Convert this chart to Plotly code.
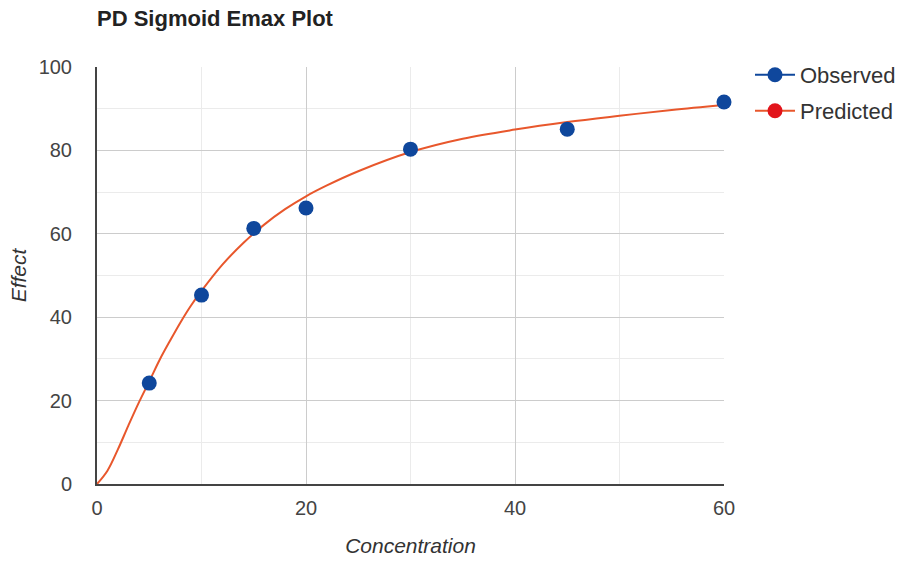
import plotly.graph_objects as go

# Observed data
obs_conc = [5, 10, 15, 20, 30, 45, 60]
obs_effect = [24.2, 45.3, 61.3, 66.2, 80.3, 85.1, 91.6]

# Predicted curve
pred_conc = [0, 1, 2, 3, 4, 5, 6, 7, 8, 9, 10, 12, 14, 16, 18, 20, 22, 25, 30, 35, 40, 45, 50, 55, 60]
pred_effect = [0, 3.2, 8.3, 14.0, 19.5, 24.6, 29.8, 34.4, 38.8, 42.8, 46.3, 52.6, 57.8, 62.2, 65.9, 69.0, 71.6, 75.0, 79.6, 82.8, 85.0, 86.8, 88.3, 89.7, 90.9]

x_ticks = [0, 20, 40, 60]
y_ticks = [0, 20, 40, 60, 80, 100]

BLUE = "#0f479c"
ORANGE = "#e8572c"
RED = "#e2141b"
FONT = "Liberation Sans, Arial, sans-serif"

fig = go.Figure()

fig.add_trace(go.Scatter(x=pred_conc, y=pred_effect, mode="lines",
                         line=dict(color=ORANGE, width=2, shape="spline"),
                         showlegend=False, hoverinfo="skip", cliponaxis=False))
fig.add_trace(go.Scatter(x=obs_conc, y=obs_effect, mode="markers",
                         marker=dict(color=BLUE, size=15),
                         showlegend=False, cliponaxis=False))
# legend entries
fig.add_trace(go.Scatter(x=[None], y=[None], mode="lines+markers", name="Observed",
                         line=dict(color=BLUE, width=2), marker=dict(color=BLUE, size=15),
                         legend="legend"))
fig.add_trace(go.Scatter(x=[None], y=[None], mode="lines+markers", name="Predicted",
                         line=dict(color=ORANGE, width=2), marker=dict(color=RED, size=15),
                         legend="legend2"))

legend_common = dict(font=dict(family=FONT, size=22, color="#333333"),
                     bgcolor="rgba(0,0,0,0)", xanchor="left", yanchor="middle",
                     xref="paper", yref="paper", itemwidth=40)

fig.update_layout(
    width=900, height=563,
    margin=dict(l=97, r=176, t=67, b=79, autoexpand=False),
    paper_bgcolor="white", plot_bgcolor="white",
    title=dict(text="<b>PD Sigmoid Emax Plot</b>", x=97/900, xanchor="left",
               y=1 - 18/563, yanchor="middle",
               font=dict(family=FONT, size=22, color="#222222")),
    xaxis=dict(range=[0, 60], tickvals=x_ticks, ticks="", showline=True,
               linecolor="#444444", linewidth=2, showgrid=True, gridcolor="#cccccc",
               gridwidth=1, zeroline=False, ticklabelstandoff=5, automargin=False,
               minor=dict(dtick=10, showgrid=True, gridcolor="#ebebeb", gridwidth=1, tick0=0),
               tickfont=dict(family=FONT, size=20, color="#444444"),
               title=dict(text="<i>Concentration</i>", standoff=20,
                          font=dict(family=FONT, size=21, color="#333333"))),
    yaxis=dict(range=[0, 100], tickvals=y_ticks, ticks="", showline=True,
               linecolor="#444444", linewidth=2, showgrid=True, gridcolor="#cccccc",
               gridwidth=1, zeroline=False, ticklabelstandoff=19, automargin=False,
               minor=dict(dtick=10, showgrid=True, gridcolor="#ebebeb", gridwidth=1, tick0=0),
               tickfont=dict(family=FONT, size=20, color="#444444"),
               title=dict(text="<i>Effect</i>", standoff=6,
                          font=dict(family=FONT, size=21, color="#333333"))),
    legend=dict(x=(750 - 97) / (900 - 97 - 176), y=(484 - 75) / (484 - 67), **legend_common),
    legend2=dict(x=(750 - 97) / (900 - 97 - 176), y=(484 - 111) / (484 - 67), **legend_common),
    showlegend=True,
)

fig.write_html("out.html")
